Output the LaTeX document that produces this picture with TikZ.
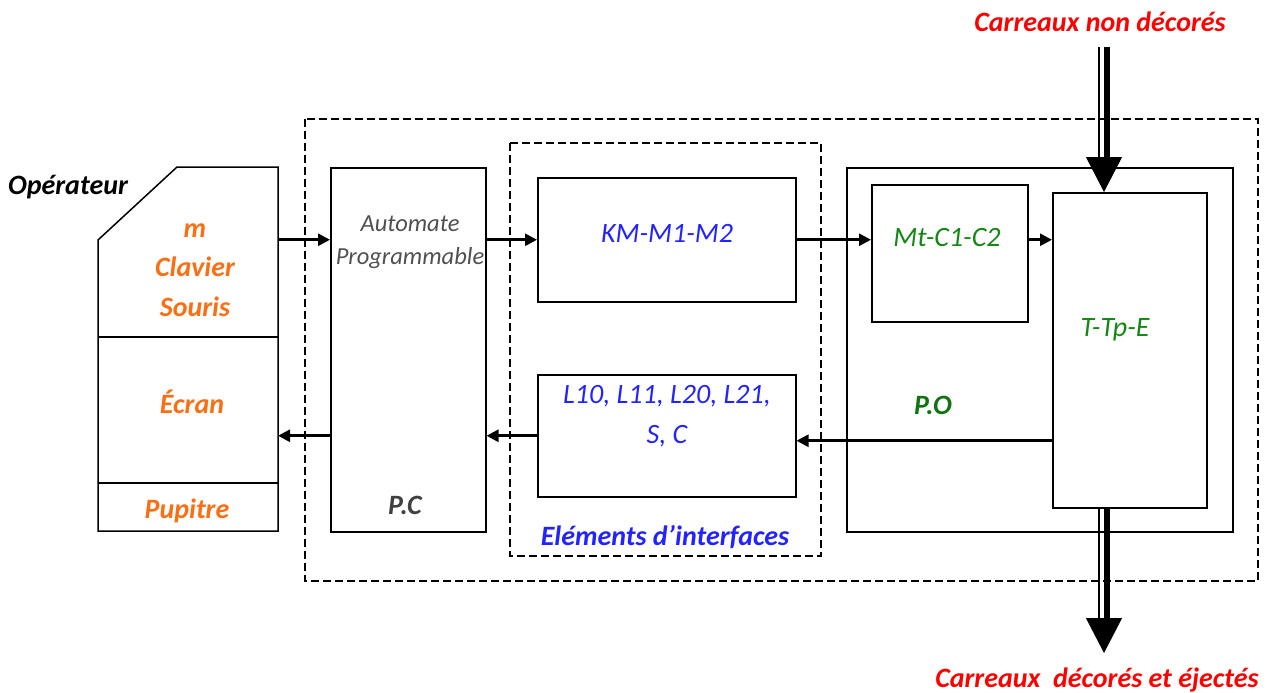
\documentclass[tikz,border=0pt]{standalone}
\usepackage{fontspec}
\setmainfont{Carlito}
\usetikzlibrary{arrows.meta,positioning}

\definecolor{orangeop}{RGB}{250,110,20}
\definecolor{bleuint}{RGB}{35,35,255}
\definecolor{vertpo}{RGB}{20,135,20}
\definecolor{grisauto}{RGB}{80,80,80}

\tikzset{
    bloc/.style={draw, line width=1.5pt, inner sep=0pt, anchor=north west},
    cadre/.style={line width=1.3pt, dash pattern=on 8pt off 4pt},
    fleche/.style={-{Triangle[length=12pt,width=12pt]}, line width=2.6pt},
    gros/.style={font=\fontsize{28}{40}\selectfont\itshape},
    grosgras/.style={font=\fontsize{28}{39.5}\selectfont\bfseries\itshape},
}

\begin{document}
\begin{tikzpicture}[x=1pt,y=-1pt]
        \useasboundingbox (0,0) rectangle (1270,693);
        %% cadres en pointilles
        \draw[cadre] (305,119) rectangle (1258,581);
        \draw[cadre] (510,143) rectangle (821,556);
        %% pupitre operateur
        \draw[line width=1.5pt] (98,240) -- (177,167) -- (278,167) -- (278,531) -- (98,531) -- cycle;
        \draw[line width=1.5pt] (98,337) -- (278,337);
        \draw[line width=1.5pt] (98,483) -- (278,483);
        \coordinate (pupitre) at (278,0);
        \node[grosgras] at (68,187) {Opérateur};
        \node[grosgras, text=orangeop, align=center] at (195,270) {m\\Clavier\\Souris};
        \node[grosgras, text=orangeop] at (192,402) {Écran};
        \node[grosgras, text=orangeop] at (187,511) {Pupitre};
        %% partie commande
        \node[bloc, minimum width=155pt, minimum height=364pt] (PC) at (330,167) {};
        \node[font=\fontsize{24.5}{33}\selectfont\itshape, text=grisauto, align=center] at (410,242) {Automate\\Programmable};
        \node[grosgras, text=black!75] at (405,505) {P.C};
        %% elements d'interfaces
        \node[bloc, minimum width=258pt, minimum height=124pt] (KM) at (537,177) {};
        \node[bloc, minimum width=258pt, minimum height=122pt] (L) at (537,374) {};
        \node[gros, text=bleuint] at (667,233) {KM-M1-M2};
        \node[gros, text=bleuint, align=center] at (667,416) {L10, L11, L20, L21,\\S, C};
        \node[grosgras, text=bleuint] at (665,537) {Eléments d’interfaces};
        %% partie operative
        \node[bloc, minimum width=386pt, minimum height=364pt] (PO) at (846,167) {};
        \node[bloc, minimum width=156pt, minimum height=137pt] (Mt) at (871,184) {};
        \node[bloc, minimum width=154pt, minimum height=315pt] (T) at (1052,192) {};
        \node[gros, text=vertpo] at (947,238) {Mt-C1-C2};
        \node[gros, text=vertpo] at (1115,330) {T-Tp-E};
        \node[grosgras, text=vertpo!85!black] at (933,405) {P.O};
        %% ordres
        \draw[fleche] (pupitre |- KM) -- (PC.west |- KM);
        \draw[fleche] (PC.east |- KM) -- (KM.west);
        \draw[fleche] (KM.east) -- (Mt.west |- KM);
        \draw[fleche] (Mt.east |- KM) -- (T.west |- KM);
        %% comptes rendus
        \draw[fleche] ([yshift=-5pt]T.west |- L) -- ([yshift=-5pt]L.east);
        \draw[fleche] (L.west) -- (PC.east |- L);
        \draw[fleche] (PC.west |- L) -- (pupitre |- L);
        %% flux des carreaux
        \coordinate (entree) at (1104,47);
        \coordinate (sortie) at (1104,653);
        \node[grosgras, text=red] at (1100,22) {Carreaux non décorés};
        \node[grosgras, text=red] at (1097,680) {Carreaux~ décorés et éjectés};
        \foreach \dx/\lw in {-5/2pt,3/6pt} {
            \draw[line width=\lw, shorten >=34pt] ([xshift=\dx pt]entree) -- ([xshift=\dx pt]entree |- T.north);
            \draw[line width=\lw, shorten >=34pt] ([xshift=\dx pt]sortie |- T.south) -- ([xshift=\dx pt]sortie);
        }
        \draw[-{Triangle[length=35pt,width=36pt]}, line width=1pt] (entree) -- (entree |- T.north);
        \draw[-{Triangle[length=35pt,width=36pt]}, line width=1pt] (sortie |- T.south) -- (sortie);
    \end{tikzpicture}
\end{document}
